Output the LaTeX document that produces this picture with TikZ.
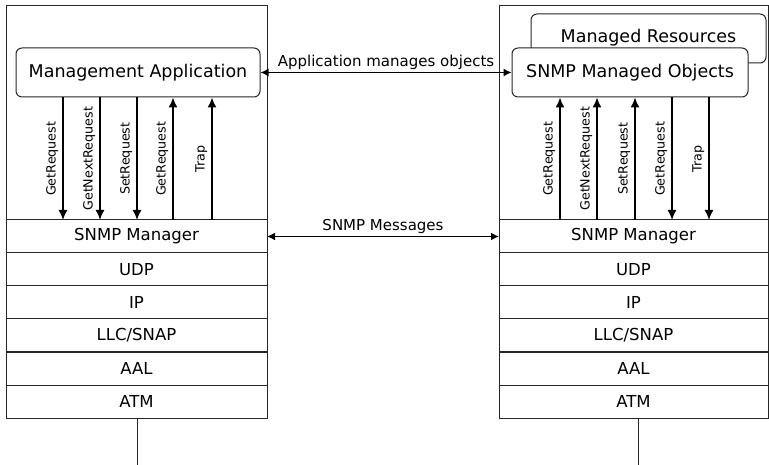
\documentclass[tikz,border=0pt]{standalone}
\usepackage{fontspec}
\setmainfont{DejaVu Sans}
\usetikzlibrary{positioning, arrows.meta}
\tikzstyle{host} = [rectangle, draw=black!85, line width=1pt, minimum height=412pt]
\tikzstyle{layer} = [rectangle, draw=black!85, line width=1pt, outer sep=0pt, minimum height=33pt, font=\fontsize{16.5}{19}\selectfont]
\tikzstyle{app} = [rectangle, rounded corners=6pt, draw=black!85, line width=1pt, fill=white, minimum height=49pt, font=\fontsize{17.5}{20}\selectfont]
\tikzstyle{msg} = [line width=1.5pt, -{Latex[length=10pt, width=9pt]}]
\tikzstyle{link} = [line width=1.3pt, {Latex[length=8pt, width=8pt]}-{Latex[length=8pt, width=8pt]}]
\tikzstyle{lbl} = [anchor=south, rotate=90, inner sep=4pt, font=\fontsize{12.7}{15}\selectfont]
\tikzstyle{note} = [font=\fontsize{15}{18}\selectfont, inner sep=2pt]

\begin{document}
\begin{tikzpicture}[x=1pt, y=-1pt]
		\useasboundingbox (0,0) rectangle (769,465);
		% manager side
		\node (hostL) [host, minimum width=261pt] at (136.5,212) {};
		\node (appL) [app, minimum width=244pt] at (138,72.5) {Management Application};
		\node (mgrL) [layer, minimum width=261pt] at (136.5,236.5) {SNMP Manager};
		\node (udpL) [layer, minimum width=261pt, below=0pt of mgrL] {UDP};
		\node (ipL) [layer, minimum width=261pt, below=0pt of udpL] {IP};
		\node (llcL) [layer, minimum width=261pt, below=0pt of ipL] {LLC/SNAP};
		\node (aalL) [layer, minimum width=261pt, below=0pt of llcL] {AAL};
		\node (atmL) [layer, minimum width=261pt, below=0pt of aalL] {ATM};
		\coordinate (endL) at (137,465);
		% agent side
		\node (hostR) [host, minimum width=269pt] at (633.5,212) {};
		\node (res) [app, minimum width=235pt] at (648.5,38.5) {\raisebox{6pt}{Managed Resources}};
		\node (obj) [app, minimum width=236pt] at (630,72.5) {SNMP Managed Objects};
		\node (mgrR) [layer, minimum width=269pt] at (633.5,236.5) {SNMP Manager};
		\node (udpR) [layer, minimum width=269pt, below=0pt of mgrR] {UDP};
		\node (ipR) [layer, minimum width=269pt, below=0pt of udpR] {IP};
		\node (llcR) [layer, minimum width=269pt, below=0pt of ipR] {LLC/SNAP};
		\node (aalR) [layer, minimum width=269pt, below=0pt of llcR] {AAL};
		\node (atmR) [layer, minimum width=269pt, below=0pt of aalR] {ATM};
		\coordinate (endR) at (638,465);
		\draw [line width=1.8pt, black!85] (llcL.south west) -- (llcL.south east);
		\draw [line width=1.8pt, black!85] (llcR.south west) -- (llcR.south east);
		% requests and traps
		\draw [msg] (appL.south -| 63,0) -- node[lbl] {GetRequest} (mgrL.north -| 63,0);
		\draw [msg] (appL.south -| 100,0) -- node[lbl] {GetNextRequest} (mgrL.north -| 100,0);
		\draw [msg] (appL.south -| 137,0) -- node[lbl] {SetRequest} (mgrL.north -| 137,0);
		\draw [msg] (mgrL.north -| 173,0) -- node[lbl] {GetRequest} (appL.south -| 173,0);
		\draw [msg] (mgrL.north -| 212,0) -- node[lbl] {Trap} (appL.south -| 212,0);
		\draw [msg] (mgrR.north -| 560,0) -- node[lbl] {GetRequest} (obj.south -| 560,0);
		\draw [msg] (mgrR.north -| 597,0) -- node[lbl] {GetNextRequest} (obj.south -| 597,0);
		\draw [msg] (mgrR.north -| 635,0) -- node[lbl] {SetRequest} (obj.south -| 635,0);
		\draw [msg] (obj.south -| 672,0) -- node[lbl] {GetRequest} (mgrR.north -| 672,0);
		\draw [msg] (obj.south -| 709,0) -- node[lbl] {Trap} (mgrR.north -| 709,0);
		% between the two sides
		\draw [link] (appL) -- node[note, above] {Application manages objects} (obj);
		\draw [link, line width=1.9pt] (mgrL) -- node[note, above] {SNMP Messages} (mgrR);
		\draw [line width=1pt, black!85] (atmL.south -| endL) -- (endL);
		\draw [line width=1pt, black!85] (atmR.south -| endR) -- (endR);
	\end{tikzpicture}
\end{document}
